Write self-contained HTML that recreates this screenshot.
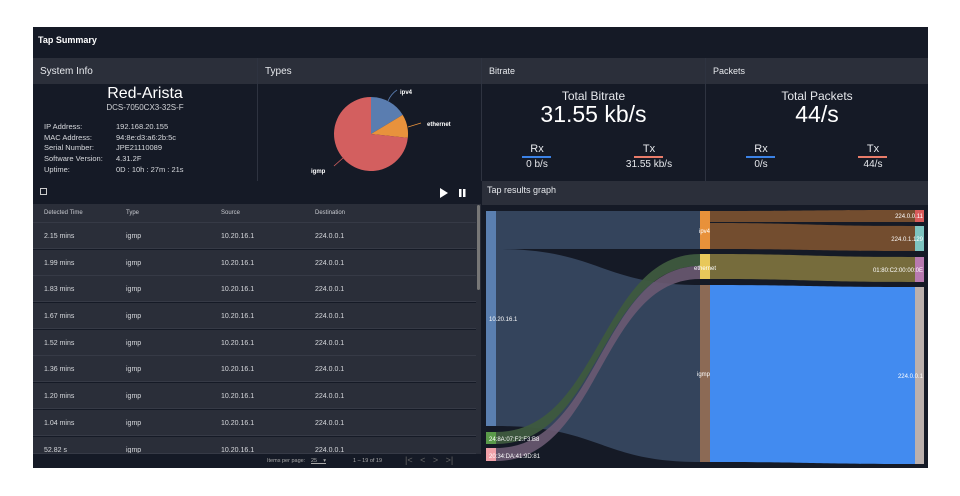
<!DOCTYPE html>
<html><head><meta charset="utf-8"><style>
*{margin:0;padding:0;box-sizing:border-box}
body{width:960px;height:496px;background:#fff;position:relative;overflow:hidden;font-family:"Liberation Sans",sans-serif;color:#e6e8ec}
.a{position:absolute}
.hd{background:#2b2f3a;color:#e6e8ec;font-size:10px;padding:8px 7px}
.bd{background:#151a26}
.t{position:absolute;white-space:nowrap}
.row{position:absolute;left:33px;width:443px;height:26px;background:#2a2e39;border-bottom:1px solid #363a46;font-size:7px;color:#d8dade}
.row span{position:absolute;top:10px}
</style></head><body>
<div class="a" style="left:33px;top:27px;width:895px;height:441px;background:#151a26"></div>
<div class="t" style="left:38px;top:35px;font-size:9px;font-weight:bold;color:#fff">Tap Summary</div>
<!-- headers -->
<div class="a hd" style="left:33px;top:58px;width:224px;height:26px">System Info</div>
<div class="a hd" style="left:258px;top:58px;width:223px;height:26px">Types</div>
<div class="a hd" style="left:482px;top:58px;width:223px;height:26px;font-size:9px">Bitrate</div>
<div class="a hd" style="left:706px;top:58px;width:222px;height:26px;font-size:9px">Packets</div>
<div class="a" style="left:257px;top:58px;width:1px;height:123px;background:#2e3340"></div>
<div class="a" style="left:481px;top:58px;width:1px;height:123px;background:#2e3340"></div>
<div class="a" style="left:705px;top:58px;width:1px;height:123px;background:#2e3340"></div>
<!-- system info -->
<div class="t" style="left:33px;width:224px;text-align:center;top:85px;font-size:16px;color:#fff">Red-Arista</div>
<div class="t" style="left:33px;width:224px;text-align:center;top:103px;font-size:8px;color:#d0d2d6">DCS-7050CX3-32S-F</div>
<div class="t" style="left:44px;top:122px;font-size:7.5px;line-height:10.7px;color:#d8dade">IP Address:<br>MAC Address:<br>Serial Number:<br>Software Version:<br>Uptime:</div>
<div class="t" style="left:116px;top:122px;font-size:7.5px;line-height:10.7px;color:#d8dade">192.168.20.155<br>94:8e:d3:a6:2b:5c<br>JPE21110089<br>4.31.2F<br>0D : 10h : 27m : 21s</div>
<!-- pie -->
<svg class="a" style="left:258px;top:84px" width="223" height="97">
<g transform="translate(113,50)">
<path d="M0,0 L0,-37 A37,37 0 0 1 31.7,-19.1 Z" fill="#5a7db0"/>
<path d="M0,0 L31.7,-19.1 A37,37 0 0 1 36.8,3.9 Z" fill="#e8923c"/>
<path d="M0,0 L36.8,3.9 A37,37 0 1 1 0,-37 Z" fill="#d35f5f"/>
<path d="M17,-33 Q20,-40 26,-44" stroke="#5a7db0" fill="none" stroke-width="0.8"/>
<path d="M37,-7 L50,-11" stroke="#e8923c" fill="none" stroke-width="0.8"/>
<path d="M-28,24 L-37,32" stroke="#d35f5f" fill="none" stroke-width="0.8"/>
</g>
<text x="142" y="10" font-size="6" fill="#fff" font-weight="bold" font-family="Liberation Sans">ipv4</text>
<text x="169" y="42" font-size="6" fill="#fff" font-weight="bold" font-family="Liberation Sans">ethernet</text>
<text x="53" y="89" font-size="6" fill="#fff" font-weight="bold" font-family="Liberation Sans">igmp</text>
</svg>
<!-- bitrate -->
<div class="t" style="left:482px;width:223px;text-align:center;top:89px;font-size:12px">Total Bitrate</div>
<div class="t" style="left:482px;width:223px;text-align:center;top:101px;font-size:23px;color:#fff">31.55 kb/s</div>
<div class="t" style="left:522px;width:30px;text-align:center;top:143px;font-size:11px">Rx</div>
<div class="a" style="left:522px;top:156px;width:29px;height:2px;background:#3b82e6"></div>
<div class="t" style="left:507px;width:60px;text-align:center;top:159px;font-size:10px">0 b/s</div>
<div class="t" style="left:634px;width:30px;text-align:center;top:143px;font-size:11px">Tx</div>
<div class="a" style="left:634px;top:156px;width:29px;height:2px;background:#e87c6a"></div>
<div class="t" style="left:609px;width:80px;text-align:center;top:159px;font-size:10px">31.55 kb/s</div>
<!-- packets -->
<div class="t" style="left:706px;width:222px;text-align:center;top:89px;font-size:12px">Total Packets</div>
<div class="t" style="left:706px;width:222px;text-align:center;top:101px;font-size:23px;color:#fff">44/s</div>
<div class="t" style="left:746px;width:30px;text-align:center;top:143px;font-size:11px">Rx</div>
<div class="a" style="left:746px;top:156px;width:29px;height:2px;background:#3b82e6"></div>
<div class="t" style="left:731px;width:60px;text-align:center;top:159px;font-size:10px">0/s</div>
<div class="t" style="left:858px;width:30px;text-align:center;top:143px;font-size:11px">Tx</div>
<div class="a" style="left:858px;top:156px;width:29px;height:2px;background:#e87c6a"></div>
<div class="t" style="left:843px;width:60px;text-align:center;top:159px;font-size:10px">44/s</div>
<!-- table toolbar -->
<div class="a" style="left:40px;top:188px;width:7px;height:7px;border:1px solid #ccc"></div>
<svg class="a" style="left:440px;top:188px" width="30" height="10"><path d="M0,0 L8,5 L0,10Z" fill="#fff"/><rect x="19" y="1" width="2.5" height="8" fill="#fff"/><rect x="23" y="1" width="2.5" height="8" fill="#fff"/></svg>
<div class="a" style="left:33px;top:204px;width:443px;height:19px;background:#2a2e39;border-bottom:1px solid #363a46;font-size:6px;color:#c8cad0">
<span class="t" style="left:11px;top:6px">Detected Time</span><span class="t" style="left:93px;top:6px">Type</span><span class="t" style="left:188px;top:6px">Source</span><span class="t" style="left:282px;top:6px">Destination</span></div>
<div class="row" style="top:223px"><span style="left:11px">2.15 mins</span><span style="left:93px">igmp</span><span style="left:188px">10.20.16.1</span><span style="left:282px">224.0.0.1</span></div>
<div class="row" style="top:250px"><span style="left:11px">1.99 mins</span><span style="left:93px">igmp</span><span style="left:188px">10.20.16.1</span><span style="left:282px">224.0.0.1</span></div>
<div class="row" style="top:276px"><span style="left:11px">1.83 mins</span><span style="left:93px">igmp</span><span style="left:188px">10.20.16.1</span><span style="left:282px">224.0.0.1</span></div>
<div class="row" style="top:303px"><span style="left:11px">1.67 mins</span><span style="left:93px">igmp</span><span style="left:188px">10.20.16.1</span><span style="left:282px">224.0.0.1</span></div>
<div class="row" style="top:330px"><span style="left:11px">1.52 mins</span><span style="left:93px">igmp</span><span style="left:188px">10.20.16.1</span><span style="left:282px">224.0.0.1</span></div>
<div class="row" style="top:356px"><span style="left:11px">1.36 mins</span><span style="left:93px">igmp</span><span style="left:188px">10.20.16.1</span><span style="left:282px">224.0.0.1</span></div>
<div class="row" style="top:383px"><span style="left:11px">1.20 mins</span><span style="left:93px">igmp</span><span style="left:188px">10.20.16.1</span><span style="left:282px">224.0.0.1</span></div>
<div class="row" style="top:410px"><span style="left:11px">1.04 mins</span><span style="left:93px">igmp</span><span style="left:188px">10.20.16.1</span><span style="left:282px">224.0.0.1</span></div>
<div class="row" style="top:437px;height:17px;overflow:hidden"><span style="left:11px">52.82 s</span><span style="left:93px">igmp</span><span style="left:188px">10.20.16.1</span><span style="left:282px">224.0.0.1</span></div>
<div class="a" style="left:476px;top:204px;width:5px;height:250px;background:#2a2e39"></div>
<div class="a" style="left:477px;top:205px;width:3px;height:85px;background:#777;border-radius:2px"></div>
<div class="a" style="left:33px;top:454px;width:448px;height:14px;background:#151a26;font-size:5.5px;color:#aaa">
<span class="t" style="left:234px;top:4px">Items per page:</span><span class="t" style="left:278px;top:4px;text-decoration:underline">25 &nbsp;&nbsp;&nbsp;▾</span><span class="t" style="left:320px;top:4px">1 – 19 of 19</span><span class="t" style="left:372px;top:1px;font-size:9px;color:#666">|&lt; &nbsp;&nbsp;&lt; &nbsp;&nbsp;&gt; &nbsp;&nbsp;&gt;|</span></div>
<!-- graph -->
<div class="a hd" style="left:482px;top:181px;width:446px;height:24px;padding:4px 5px;font-size:9px">Tap results graph</div>
<svg class="a" style="left:482px;top:205px" width="446" height="263" font-family="Liberation Sans" font-size="6" fill="#fff">
<g transform="translate(-482,-205)">
<path d="M496,211 L700,211 L700,249 L496,249Z" fill="#34445c"/>
<path d="M496,249 C600,249 600,285 700,285 L700,462 C600,462 600,426 496,426Z" fill="#34445c"/>
<path d="M496,432 C600,432 600,254 700,254 L700,266 C600,266 600,444 496,444Z" fill="#3e5a3e" opacity="0.95"/>
<path d="M496,448 C600,448 600,266 700,266 L700,279 C600,279 600,461 496,461Z" fill="#6a5a72" opacity="0.9"/>
<path d="M710,211 C810,211 810,210 915,210 L915,222 C810,222 810,222 710,222Z" fill="#734d2f"/>
<path d="M710,223 C810,223 810,226 915,226 L915,251 C810,251 810,249 710,249Z" fill="#734d2f"/>
<path d="M710,254 C810,254 810,257 915,257 L915,282 C810,282 810,279 710,279Z" fill="#766c3c"/>
<path d="M710,285 C810,285 810,287 915,287 L915,464 C810,464 810,462 710,462Z" fill="#428bf0"/>
<rect x="486" y="211" width="10" height="215" fill="#5a7fb0"/>
<rect x="486" y="432" width="10" height="12" fill="#5a9a4a"/>
<rect x="486" y="448" width="10" height="13" fill="#f0a0a8"/>
<rect x="700" y="211" width="10" height="38" fill="#e8913a"/>
<rect x="700" y="254" width="10" height="25" fill="#e8c85a"/>
<rect x="700" y="285" width="10" height="177" fill="#8c6a55"/>
<rect x="915" y="210" width="9" height="12" fill="#d85a5a"/>
<rect x="915" y="226" width="9" height="25" fill="#7ec4c0"/>
<rect x="915" y="257" width="9" height="25" fill="#b87ab0"/>
<rect x="915" y="287" width="9" height="177" fill="#bbb0ad"/>
<text x="489" y="321">10.20.16.1</text>
<text x="489" y="441">24:8A:07:F2:F3:B8</text>
<text x="489" y="458">20:34:DA:41:9D:81</text>
<text x="699" y="233">ipv4</text>
<text x="694" y="270">ethernet</text>
<text x="697" y="376">igmp</text>
<text x="923" y="218" text-anchor="end">224.0.0.11</text>
<text x="923" y="241" text-anchor="end">224.0.1.129</text>
<text x="923" y="272" text-anchor="end">01:80:C2:00:00:0E</text>
<text x="923" y="378" text-anchor="end">224.0.0.1</text>
</g></svg>
</body></html>
